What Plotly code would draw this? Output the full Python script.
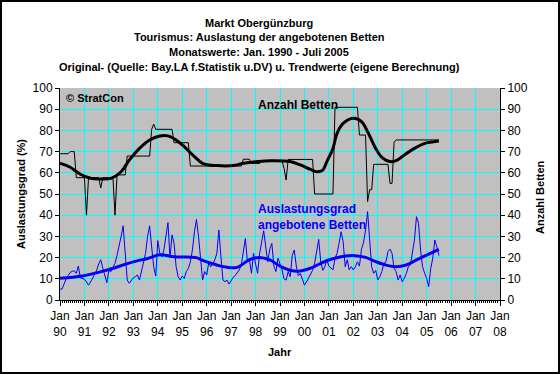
import plotly.graph_objects as go

# ---- data -------------------------------------------------------------
# months counted from Jan 1990 (0) ; Jan 1990 - Jul 2005 = 187 monthly values
year_labels = ["90", "91", "92", "93", "94", "95", "96", "97", "98", "99",
               "00", "01", "02", "03", "04", "05", "06", "07", "08"]

auslastung = [
    # 1990
    5, 5.2, 7.5, 10, 11.5, 13, 13.5, 13.8, 12.6, 16, 10.5, 10,
    # 1991
    9.8, 8.5, 7, 8.5, 10.5, 12.5, 14, 17, 19, 15, 11, 8.2,
    # 1992
    14, 13.4, 15.5, 17.3, 21, 25, 30, 35, 23.6, 9.4, 7.9, 9.4,
    # 1993
    10.5, 11, 11.8, 9.4, 13.4, 17.3, 22, 30, 35, 25, 15.7, 11.3,
    # 1994
    28, 22, 20.4, 23.6, 30, 36.5, 20, 30.7, 26.7, 15.7, 11, 9.4,
    # 1995
    11.3, 10.2, 13.4, 14.9, 18, 23.6, 32.2, 38, 30, 18.9, 9.4, 13.4,
    # 1996
    11.8, 17.3, 15.7, 17, 18.9, 22, 33, 20.4, 9.4, 8.6, 9.4, 7.5,
    # 1997
    9.4, 10.7, 11.5, 12.6, 14.2, 16.5, 23.6, 29, 18, 18.9, 12.6, 22,
    # 1998
    17, 12.6, 22, 26.7, 32.7, 25, 18, 24, 26.7, 16, 13.4, 19.7,
    # 1999
    17.3, 14.2, 10, 9.4, 13.4, 11, 21, 23.6, 16, 11.5, 12.5, 9.4,
    # 2000
    7, 8.5, 10.5, 12.5, 14, 17.3, 23.6, 28.6, 18, 14, 15.7, 18.9,
    # 2001
    16, 14.9, 14.2, 19.7, 22, 26.7, 32.2, 27.5, 15.7, 19, 14.2, 15.7,
    # 2002
    14.2, 15.7, 18, 16, 24, 27, 33, 41.7, 28.3, 15.7, 12.6, 14,
    # 2003
    9.4, 11, 13.4, 17.3, 18, 22.8, 24, 22, 14.9, 13.4, 9.4, 11.8,
    # 2004
    8.6, 10.2, 12.5, 15.7, 16.5, 22, 28.3, 39.3, 36.2, 23.6, 15.7, 12.6,
    # 2005 (Jan - Jul)
    10.2, 6.3, 14.9, 19.7, 28.3, 25, 21,
]

betten = [
    # 1990
    69, 69, 69, 69, 69, 70, 70, 70, 57.7, 57.7, 57.7, 57.7,
    # 1991
    57.7, 40, 57.7, 57.7, 57.7, 57.7, 57.7, 57.7, 52.8, 57.7, 57.7, 57.7,
    # 1992
    57.7, 57.7, 57.7, 40, 59, 59, 59, 59, 59, 67.9, 67.9, 67.9,
    # 1993
    67.9, 67.9, 67.9, 67.9, 67.9, 67.9, 67.9, 67.9, 67.9, 80.5, 83, 80.5,
    # 1994
    80.5, 80.5, 80.5, 80.5, 80.5, 80.5, 80.5, 80.5, 74.2, 74.2, 74.2, 74.2,
    # 1995
    74.2, 74.2, 74.2, 74.2, 63.2, 63.2, 63.2, 63.2, 63.2, 63.2, 63.2, 63.2,
    # 1996
    63.2, 63.2, 63.2, 63.2, 63.2, 63.2, 63.2, 63.2, 63.2, 63.2, 63.2, 63.2,
    # 1997
    63.2, 63.2, 63.2, 63.2, 63.2, 63.2, 66.4, 66.4, 66.4, 66.4, 64.4, 64.4,
    # 1998
    64.4, 64.4, 64.4, 65.8, 65.8, 65.8, 65.8, 65.8, 65.8, 65.8, 65.8, 65.8,
    # 1999
    65.8, 65.8, 62, 56.6, 66.3, 66.3, 66.3, 66.3, 66.3, 66.3, 66.3, 66.3,
    # 2000
    66.3, 66.3, 66.3, 66.3, 66.3, 50, 50, 50, 50, 50, 50, 50,
    # 2001
    50, 50, 50, 90.9, 90.9, 90.9, 90.9, 90.9, 90.9, 90.9, 90.9, 90.9,
    # 2002
    90.9, 90.9, 90.9, 77.8, 77.8, 77.8, 77.8, 46.4, 52, 52, 64, 64,
    # 2003
    64, 64, 64, 64, 64, 64, 55, 55, 74.4, 75.5, 75.5, 75.5,
    # 2004
    75.5, 75.5, 75.5, 75.5, 75.5, 75.5, 75.5, 75.5, 75.5, 75.5, 75.5, 75.5,
    # 2005 (Jan - Jul)
    75.5, 75.5, 75.5, 75.5, 75.5, 75.5, 75.5,
]

# trend values (own calculation) read at sample months
trend_ausl_month = [0, 11, 23, 36, 43, 49, 56, 67, 70, 77, 82, 87, 93, 98, 103,
                    108, 114, 118, 123, 128, 133, 138, 142, 146, 150, 155, 160,
                    165, 170, 175, 180, 186]
trend_ausl_value = [10.3, 11.3, 14.1, 18, 19.6, 21.3, 20.4, 20, 18.7, 16.5, 15.4,
                    15.4, 19, 20.1, 18.9, 16, 13.8, 13.7, 15, 17.3, 19.2, 20.4,
                    20.9, 20.8, 20.1, 18.1, 16.5, 15.7, 16.5, 18.9, 21.2, 23.9]

trend_bett_month = [0, 5, 10, 15, 20, 25, 30, 34, 39, 44, 49, 53, 57, 61, 66,
                    70, 77, 85, 90, 97, 103, 113, 118, 123, 126, 129, 131, 134,
                    136, 139, 144, 148, 151, 155, 158, 162, 165, 169, 174, 179,
                    184, 186]
trend_bett_value = [64.5, 62.6, 59.3, 57.4, 57.1, 57.4, 60.5, 66, 71.5, 75.5,
                    77.4, 77.4, 75.5, 72.3, 67.6, 64.5, 63.4, 63.4, 64.5, 65.3,
                    65.7, 65.3, 63.7, 61.6, 60.5, 61.3, 65.3, 71.5, 78.6, 83.3,
                    85.7, 84.1, 79.4, 71.5, 67.3, 65.3, 65.7, 68.4, 71.5, 73.9,
                    74.7, 75]

# ---- figure -----------------------------------------------------------
FONT = "Liberation Sans, Arial, sans-serif"
months = list(range(len(auslastung)))

fig = go.Figure()
fig.add_trace(go.Scatter(x=months, y=betten, mode="lines", yaxis="y2",
                         line=dict(color="black", width=1), showlegend=False))
fig.add_trace(go.Scatter(x=trend_bett_month, y=trend_bett_value, mode="lines",
                         yaxis="y2", line=dict(color="black", width=3, shape="spline"),
                         showlegend=False))
fig.add_trace(go.Scatter(x=months, y=auslastung, mode="lines",
                         line=dict(color="#0000FF", width=1), showlegend=False))
fig.add_trace(go.Scatter(x=trend_ausl_month, y=trend_ausl_value, mode="lines",
                         line=dict(color="#0000FF", width=3, shape="spline"),
                         showlegend=False))

tickvals = [12 * i for i in range(len(year_labels))]
ticktext = ["Jan<br>" + y for y in year_labels]

fig.update_layout(
    width=560, height=374,
    margin=dict(l=60, r=60, t=88, b=74, pad=0),
    paper_bgcolor="white", plot_bgcolor="#C0C0C0",
    font=dict(family=FONT, size=11, color="black"),
    showlegend=False,
    xaxis=dict(range=[0, 216], tickmode="array", tickvals=tickvals, ticktext=ticktext,
               ticks="outside", ticklen=5, tickcolor="black", showline=True,
               linecolor="black", linewidth=1, showgrid=True, gridcolor="#00FFFF",
               gridwidth=1, zeroline=False, tickfont=dict(size=12),
               minor=dict(tickmode="linear", tick0=0, dtick=1, ticks="outside",
                          ticklen=2, tickcolor="black", showgrid=False)),
    yaxis=dict(range=[0, 100], dtick=10, ticks="outside", ticklen=4, tickcolor="black",
               showline=True, linecolor="black", linewidth=1, showgrid=True,
               gridcolor="#00FFFF", gridwidth=1, zeroline=False, tickfont=dict(size=12)),
    yaxis2=dict(range=[0, 100], dtick=10, ticks="outside", ticklen=4, tickcolor="black",
                showline=True, linecolor="black", linewidth=1, showgrid=False,
                zeroline=False, overlaying="y", side="right", tickfont=dict(size=12)),
)

def px_x(px):
    return (px - 60) / 440.0

def px_y(py):
    return (300 - py) / 212.0

titles = ["Markt Obergünzburg",
          "Tourismus: Auslastung der angebotenen Betten",
          "Monatswerte: Jan. 1990 - Juli 2005",
          "Original- (Quelle: Bay.LA f.Statistik u.DV) u. Trendwerte (eigene Berechnung)"]
for i, t in enumerate(titles):
    fig.add_annotation(text="<b>" + t + "</b>", xref="paper", yref="paper",
                       x=px_x(259), y=px_y(22.5 + 14.7 * i), xanchor="center",
                       yanchor="middle", showarrow=False,
                       font=dict(family=FONT, size=11, color="black"))

fig.add_annotation(text="<b>© StratCon</b>", xref="paper", yref="paper",
                   x=px_x(64), y=px_y(97.5), xanchor="left", yanchor="middle",
                   showarrow=False, font=dict(family=FONT, size=11, color="black"))
fig.add_annotation(text="<b>Anzahl Betten</b>", xref="paper", yref="paper",
                   x=px_x(256), y=px_y(105), xanchor="left", yanchor="middle",
                   showarrow=False, font=dict(family=FONT, size=12, color="black"))
fig.add_annotation(text="<b>Auslastungsgrad</b>", xref="paper", yref="paper",
                   x=px_x(256), y=px_y(209), xanchor="left", yanchor="middle",
                   showarrow=False, font=dict(family=FONT, size=12, color="#0000FF"))
fig.add_annotation(text="<b>angebotene Betten</b>", xref="paper", yref="paper",
                   x=px_x(256), y=px_y(225), xanchor="left", yanchor="middle",
                   showarrow=False, font=dict(family=FONT, size=12, color="#0000FF"))
fig.add_annotation(text="<b>Jahr</b>", xref="paper", yref="paper",
                   x=px_x(280), y=px_y(352), xanchor="center", yanchor="middle",
                   showarrow=False, font=dict(family=FONT, size=11, color="black"))
fig.add_annotation(text="<b>Auslastungsgrad (%)</b>", xref="paper", yref="paper",
                   x=px_x(21), y=px_y(194), xanchor="center", yanchor="middle",
                   textangle=-90, showarrow=False,
                   font=dict(family=FONT, size=11, color="black"))
fig.add_annotation(text="<b>Anzahl Betten</b>", xref="paper", yref="paper",
                   x=px_x(540), y=px_y(197), xanchor="center", yanchor="middle",
                   textangle=-90, showarrow=False,
                   font=dict(family=FONT, size=11, color="black"))

# outer frame of the picture
fig.add_shape(type="rect", xref="paper", yref="paper",
              x0=px_x(1), x1=px_x(559), y0=px_y(373), y1=px_y(1),
              line=dict(color="black", width=2), fillcolor="rgba(0,0,0,0)")

fig.write_html("out.html",
               config={"displayModeBar": False, "staticPlot": True},
               post_script="document.body.style.margin='0';"
                           "document.body.style.overflow='hidden';")
